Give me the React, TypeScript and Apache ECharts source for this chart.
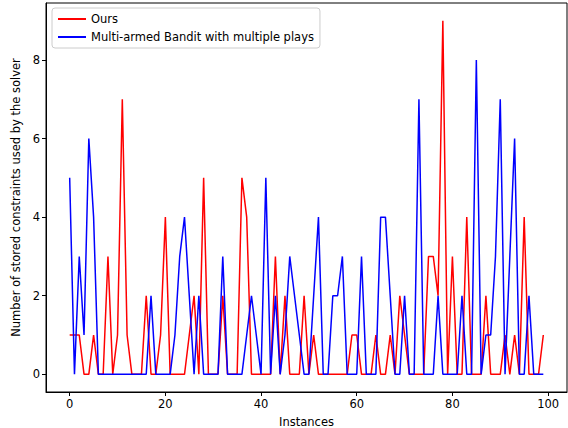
import React, { useEffect, useRef } from "react";
import * as echarts from "echarts";

const ours: number[] = [
  1, 1, 1, 0, 0, 1, 0, 0, 3, 0,
  1, 7, 1, 0, 0, 0, 2, 0, 0, 1,
  4, 0, 0, 0, 0, 1, 2, 0, 5, 0,
  0, 0, 2, 0, 0, 0, 5, 4, 0, 0,
  0, 0, 0, 3, 0, 2, 0, 0, 0, 2,
  0, 1, 0, 0, 0, 0, 0, 0, 0, 1,
  1, 0, 0, 0, 1, 0, 0, 1, 0, 2,
  1, 0, 0, 0, 0, 3, 3, 2, 9, 0,
  3, 0, 0, 4, 0, 0, 0, 2, 0, 0,
  0, 1, 0, 1, 0, 4, 0, 0, 0, 1,
];

const bandit: number[] = [
  5, 0, 3, 1, 6, 4, 0, 0, 0, 0,
  0, 0, 0, 0, 0, 0, 0, 2, 0, 0,
  0, 0, 1, 3, 4, 2, 0, 2, 0, 0,
  0, 0, 3, 0, 0, 0, 0, 1, 2, 1,
  0, 5, 0, 2, 0, 1, 3, 2, 1, 0,
  0, 2, 4, 0, 0, 2, 2, 3, 0, 0,
  0, 3, 0, 0, 0, 4, 4, 2, 0, 0,
  2, 0, 0, 7, 0, 0, 0, 2, 0, 0,
  0, 0, 2, 0, 0, 8, 0, 1, 1, 3,
  7, 0, 3, 6, 0, 0, 2, 0, 0, 0,
];

const seriesNames = ["Ours", "Multi-armed Bandit with multiple plays"];
const xTicks = [0, 20, 40, 60, 80, 100];
const yTicks = [0, 2, 4, 6, 8];

export default function App() {
  const ref = useRef<HTMLDivElement>(null);
  useEffect(() => {
    if (!ref.current) return;
    const chart = echarts.init(ref.current, null, { renderer: "svg" });
    const font = "DejaVu Sans";
    const fs = 11.5;
    chart.setOption({
      animation: false,
      backgroundColor: "#fff",
      textStyle: { fontFamily: font },
      grid: {
        left: 46,
        right: 1,
        top: 3,
        bottom: 36,
        show: true,
        borderColor: "#000",
        borderWidth: 1,
        backgroundColor: "transparent",
        containLabel: false,
        outerBoundsMode: "none",
      },
      legend: {
        orient: "vertical",
        left: 52,
        top: 8,
        padding: [5, 6, 5, 6],
        itemGap: 6,
        itemWidth: 28,
        itemHeight: 2,
        icon: "rect",
        backgroundColor: "rgba(255,255,255,0.8)",
        borderColor: "#cccccc",
        borderWidth: 1,
        borderRadius: 3,
        textStyle: { fontFamily: font, fontSize: fs, color: "#000" },
        data: seriesNames,
      },
      xAxis: {
        type: "value",
        min: -4.95,
        max: 103.95,
        name: "Instances",
        nameLocation: "middle",
        nameGap: 24,
        nameTextStyle: { fontFamily: font, fontSize: fs, color: "#000" },
        splitLine: { show: false },
        axisLine: { show: true, onZero: false, lineStyle: { color: "#000" } },
        axisTick: {
          show: true,
          length: 4,
          customValues: xTicks,
          lineStyle: { color: "#000" },
        },
        axisLabel: {
          customValues: xTicks,
          fontFamily: font,
          fontSize: fs,
          color: "#000",
          margin: 6,
        },
      },
      yAxis: {
        type: "value",
        min: -0.45,
        max: 9.45,
        name: "Number of stored constraints used by the solver",
        nameLocation: "middle",
        nameRotate: 90,
        nameGap: 17,
        nameTextStyle: { fontFamily: font, fontSize: fs, color: "#000" },
        splitLine: { show: false },
        axisLine: { show: true, onZero: false, lineStyle: { color: "#000" } },
        axisTick: {
          show: true,
          length: 4,
          customValues: yTicks,
          lineStyle: { color: "#000" },
        },
        axisLabel: {
          customValues: yTicks,
          fontFamily: font,
          fontSize: fs,
          color: "#000",
          margin: 6,
        },
      },
      series: [
        {
          name: seriesNames[0],
          type: "line",
          data: ours.map((v, i) => [i, v]),
          symbol: "none",
          showSymbol: false,
          color: "#ff0000",
          lineStyle: { color: "#ff0000", width: 1.5 },
          z: 2,
        },
        {
          name: seriesNames[1],
          type: "line",
          data: bandit.map((v, i) => [i, v]),
          symbol: "none",
          showSymbol: false,
          color: "#0000ff",
          lineStyle: { color: "#0000ff", width: 1.5 },
          z: 3,
        },
      ],
    });
    return () => chart.dispose();
  }, []);
  return (
    <div
      ref={ref}
      style={{ position: "fixed", left: 0, top: 0, width: 568, height: 428 }}
    />
  );
}
